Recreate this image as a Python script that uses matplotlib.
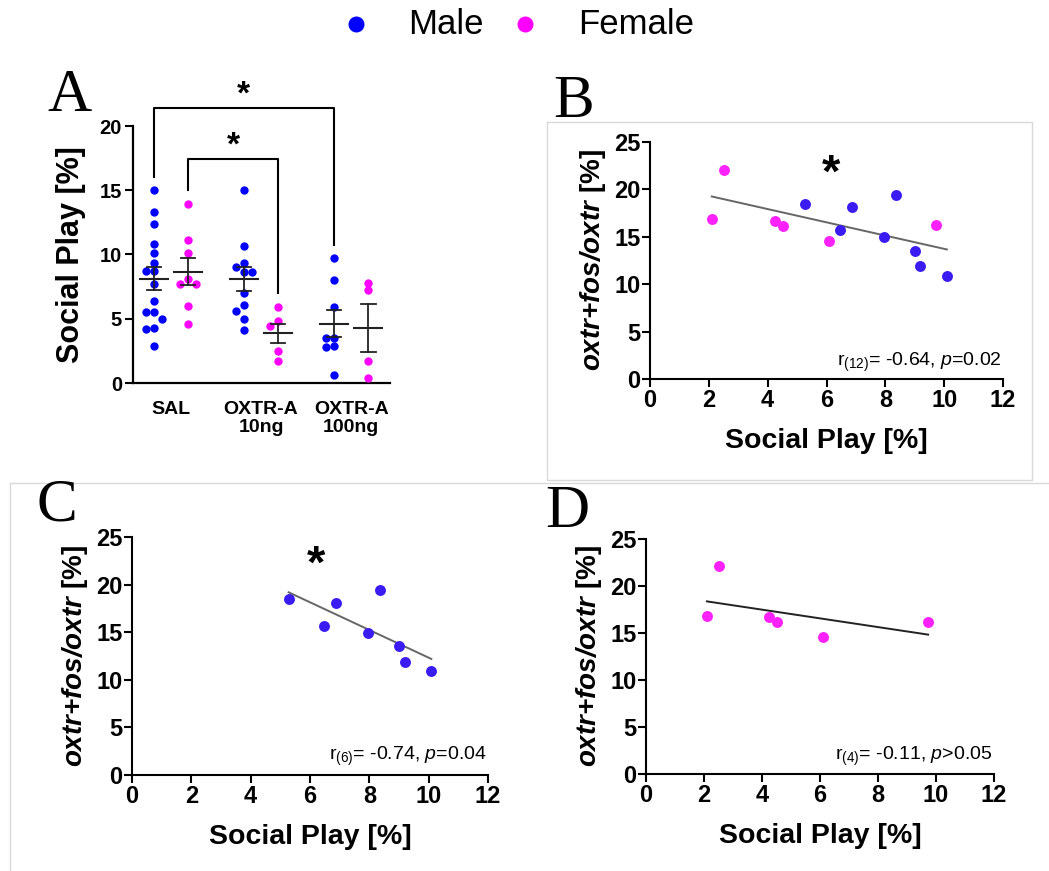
import numpy as np
import matplotlib.pyplot as plt
from matplotlib.lines import Line2D

plt.rcParams['font.family'] = ['Liberation Sans', 'DejaVu Sans']
plt.rcParams['mathtext.fontset'] = 'custom'
plt.rcParams['mathtext.rm'] = 'Liberation Sans'
plt.rcParams['mathtext.it'] = 'Liberation Sans:italic'
plt.rcParams['mathtext.bf'] = 'Liberation Sans:bold'
plt.rcParams['mathtext.bfit'] = 'Liberation Sans:bold:italic'

# ---- data: panel A (social play per group) ----
groups = ['SAL', 'OXTR-A\n10ng', 'OXTR-A\n100ng']
male_play_groups = [
    [15.0, 13.3, 12.4, 10.8, 10.1, 9.3, 8.7, 8.7, 7.7, 6.4, 5.5, 5.5, 5.0, 4.3, 4.2, 2.9],
    [15.0, 10.7, 9.3, 9.0, 8.6, 8.6, 7.0, 6.1, 5.6, 5.0, 4.1],
    [9.7, 8.0, 5.9, 3.5, 3.5, 2.9, 2.8, 0.6],
]
female_play_groups = [
    [13.9, 11.1, 10.1, 8.1, 7.7, 7.7, 6.0, 4.6],
    [5.9, 4.8, 4.4, 2.5, 1.7],
    [7.8, 7.2, 1.7, 0.4],
]

# ---- data: panels B-D (correlation) ----
male_play = [5.28, 6.47, 6.87, 7.97, 8.36, 9.0, 9.19, 10.09]
male_ratio = [18.5, 15.7, 18.1, 14.95, 19.45, 13.5, 11.88, 10.9]
female_play = [2.1, 2.5, 4.24, 4.53, 6.1, 9.73]
female_ratio = [16.86, 22.08, 16.65, 16.15, 14.55, 16.2]

stats_b = r'r$_{(12)}$= -0.64, $\mathit{p}$=0.02'
stats_c = r'r$_{(6)}$= -0.74, $\mathit{p}$=0.04'
stats_d = r'r$_{(4)}$= -0.11, $\mathit{p}$>0.05'

W, H = 1049, 871
fig = plt.figure(figsize=(W / 100, H / 100), dpi=100)


def box(l, t, r, b):
    return [l / W, 1 - b / H, (r - l) / W, (b - t) / H]


def swarm(vals, xscale, yscale, step, diam):
    order = np.argsort(vals)[::-1]
    xs = np.zeros(len(vals))
    placed = []
    for i in order:
        for c in [0, -1, 1, -2, 2, -3, 3]:
            x = c * step
            ok = all(((x - px) * xscale) ** 2 + ((vals[i] - py) * yscale) ** 2 >= diam ** 2
                     for px, py in placed)
            if ok:
                break
        xs[i] = x
        placed.append((x, vals[i]))
    return xs


blue_a = '#0000ff'
mag_a = '#ff00ff'
blue_b = '#3a1cf2'
mag_b = '#ff22ff'

# ---------------- panel A ----------------
axA = fig.add_axes(box(133, 126, 390, 383))
off = 0.19
for g in range(3):
    for vals, sign, col in [(male_play_groups[g], -1, blue_a), (female_play_groups[g], 1, mag_a)]:
        vals = np.array(vals)
        cx = g + sign * off
        xs = cx + swarm(vals, 90, 12.85, 0.09, 6.5)
        axA.scatter(xs, vals, s=36, color=col, zorder=3, linewidths=0)
        m = vals.mean()
        sem = vals.std(ddof=1) / np.sqrt(len(vals))
        axA.plot([cx - 0.155, cx + 0.155], [m, m], color='#222222', lw=1.5, zorder=4)
        axA.plot([cx, cx], [m - sem, m + sem], color='#222222', lw=1.3, zorder=4)
        for e in (m - sem, m + sem):
            axA.plot([cx - 0.08, cx + 0.08], [e, e], color='#222222', lw=1.3, zorder=4)

axA.set_xlim(-0.42, 2.43)
axA.set_ylim(0, 20)
axA.set_yticks([0, 5, 10, 15, 20])
axA.set_xticks([0, 1, 2])
axA.set_xticklabels(groups, fontsize=14, fontweight='bold', linespacing=1.1)
for lab in axA.get_yticklabels():
    lab.set_fontweight('bold')
axA.tick_params(axis='y', labelsize=14.5, length=6, width=1.5, pad=2)
axA.tick_params(axis='x', length=0, pad=13)
axA.spines[['top', 'right']].set_visible(False)
axA.spines[['left', 'bottom']].set_linewidth(1.6)
axA.set_ylabel('Social Play [%]', fontsize=22, fontweight='bold', labelpad=10)

# significance brackets
axA.plot([-off, -off, 2 - off, 2 - off], [16.0, 21.4, 21.4, 10.75], color='k', lw=1.5, clip_on=False)
axA.plot([off, off, 1 + off, 1 + off], [15.0, 17.4, 17.4, 7.0], color='k', lw=1.5, clip_on=False)
axA.text(1 - off, 22.4, '*', fontsize=24, fontweight='bold', ha='center', va='center')
axA.text(0.5 + off, 18.4, '*', fontsize=24, fontweight='bold', ha='center', va='center')


# ---------------- panels B-D ----------------
def corr_panel(rect, xs_list, ys_list, cols, line_col, stats, stats_y, star_xy=None):
    ax = fig.add_axes(rect)
    for xs, ys, col in zip(xs_list, ys_list, cols):
        ax.scatter(xs, ys, s=62, color=col, zorder=3, linewidths=0)
    allx = np.concatenate([np.array(x) for x in xs_list])
    ally = np.concatenate([np.array(y) for y in ys_list])
    k, b = np.polyfit(allx, ally, 1)
    lx = np.array([allx.min(), allx.max()])
    ax.plot(lx, k * lx + b, color=line_col, lw=1.4, zorder=2)
    ax.set_xlim(0, 12)
    ax.set_ylim(0, 25)
    ax.set_xticks(range(0, 13, 2))
    ax.set_yticks(range(0, 26, 5))
    for lab in ax.get_xticklabels() + ax.get_yticklabels():
        lab.set_fontweight('bold')
    ax.tick_params(labelsize=17, length=6, width=1.5, pad=1)
    ax.spines[['top', 'right']].set_visible(False)
    ax.spines[['left', 'bottom']].set_linewidth(1.5)
    ax.set_xlabel('Social Play [%]', fontsize=20.5, fontweight='bold', labelpad=12)
    ax.set_ylabel(r'$\mathbfit{oxtr}$$\mathbfit{+}$$\mathbfit{fos/oxtr}$ [%]',
                  fontsize=20, fontweight='bold', labelpad=4)
    ax.text(11.95, stats_y, stats, fontsize=14, ha='right', va='center')
    if star_xy is not None:
        ax.text(star_xy[0], star_xy[1], '*', fontsize=34, fontweight='bold',
                ha='center', va='center')
    return ax


corr_panel(box(650, 142, 1003, 379), [female_play, male_play], [female_ratio, male_ratio],
           [mag_b, blue_b], '#666666', stats_b, 1.7, (6.15, 21.5))
corr_panel(box(132, 537, 488, 775), [male_play], [male_ratio],
           [blue_b], '#666666', stats_c, 2.0, (6.22, 22.0))
corr_panel(box(646, 539, 994, 774), [female_play], [female_ratio],
           [mag_b], '#222222', stats_d, 1.9)

# ---------------- frames and panel letters ----------------
fc = '#d9d9d9'
def fline(xs, ys):
    fig.add_artist(Line2D([x / W for x in xs], [1 - y / H for y in ys], color=fc, lw=1.0))

fline([547, 1032, 1032, 547, 547], [122, 122, 480, 480, 122])
fline([10, 1049], [483, 483])
fline([10, 10], [483, 871])

for letter, x, y in [('A', 70, 96), ('B', 574, 102), ('C', 57, 506), ('D', 567, 512)]:
    fig.text(x / W, 1 - y / H, letter, family='Liberation Serif', fontsize=44,
             ha='center', va='center')

# ---------------- legend ----------------
for xp, col, lab, tx in [(356, blue_a, 'Male', 408), (525, mag_a, 'Female', 578)]:
    fig.add_artist(Line2D([xp / W], [1 - 24 / H], marker='o', ms=10.5, color=col, lw=0))
    fig.text(tx / W, 1 - 24 / H, lab, fontsize=25, ha='left', va='center')

fig.savefig('out.png', dpi=100)
